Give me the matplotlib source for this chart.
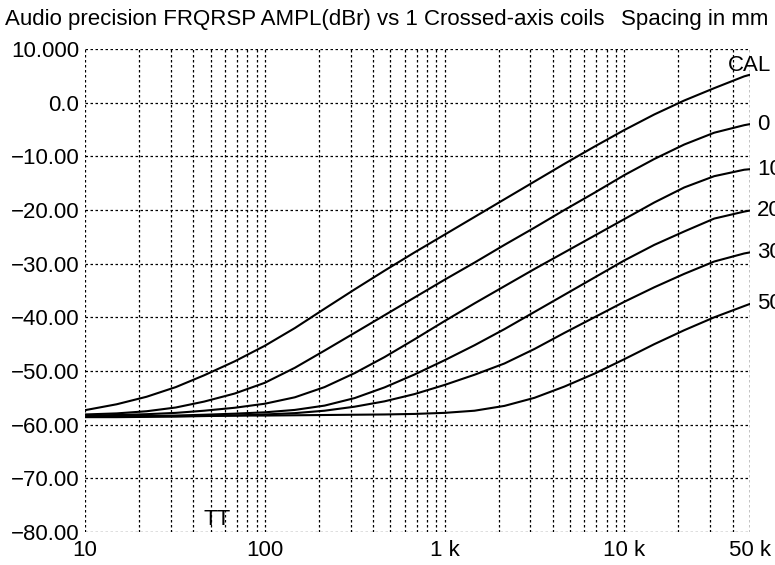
import matplotlib.pyplot as plt
from matplotlib.ticker import FixedLocator, NullFormatter

plt.rcParams['font.family'] = ['Liberation Sans', 'DejaVu Sans']

# frequency points (Hz)
freqs = [10, 15, 22, 32, 46, 68, 100, 147, 215, 316, 464, 681, 1000, 1468, 2154,
         3162, 4642, 6813, 10000, 14678, 21544, 31623, 46416, 50000]

# level in dBr for each coil spacing
cal = [-57.3, -56.2, -54.8, -53.0, -50.8, -48.2, -45.3, -42.0, -38.4, -34.8, -31.3,
       -27.9, -24.6, -21.3, -18.0, -14.7, -11.4, -8.2, -5.1, -2.2, 0.4, 2.7, 4.9, 5.2]
s0 = [-58.1, -57.9, -57.5, -56.8, -55.7, -54.2, -52.2, -49.4, -46.2, -42.9, -39.6,
      -36.3, -33.0, -29.8, -26.5, -23.3, -20.0, -16.8, -13.5, -10.5, -7.8, -5.6, -4.2, -4.0]
s10 = [-58.3, -58.2, -58.05, -57.8, -57.4, -56.85, -56.1, -54.9, -53.0, -50.4, -47.4,
       -44.1, -40.7, -37.4, -34.2, -31.0, -27.9, -24.8, -21.7, -18.6, -15.8, -13.7, -12.5, -12.4]
s20 = [-58.5, -58.45, -58.4, -58.3, -58.15, -57.95, -57.7, -57.25, -56.45, -55.05, -53.05,
       -50.65, -48.0, -45.2, -42.2, -39.0, -35.8, -32.6, -29.4, -26.5, -24.0, -21.6, -20.3, -20.1]
s30 = [-58.6, -58.6, -58.55, -58.5, -58.4, -58.3, -58.1, -57.85, -57.4, -56.65, -55.65,
       -54.3, -52.6, -50.7, -48.6, -45.9, -42.9, -40.0, -37.1, -34.4, -31.9, -29.6, -28.1, -27.9]
s50 = [-58.4, -58.4, -58.4, -58.4, -58.35, -58.3, -58.3, -58.25, -58.2, -58.15, -58.1,
       -58.0, -57.8, -57.4, -56.5, -55.0, -52.9, -50.5, -47.8, -45.0, -42.4, -40.0, -37.9, -37.5]

series = [cal, s0, s10, s20, s30, s50]
labels = ['CAL', '0', '10', '20', '30', '50']

yticks = [10, 0, -10, -20, -30, -40, -50, -60, -70, -80]
ytick_labels = ['10.000', '0.0', '\u221210.00', '\u221220.00', '\u221230.00',
                '\u221240.00', '\u221250.00', '\u221260.00', '\u221270.00', '\u221280.00']
xticks = [10, 100, 1000, 10000, 50000]
xtick_labels = ['10', '100', '1 k', '10 k', '50 k']

fig = plt.figure(figsize=(7.75, 5.65), dpi=100)
ax = fig.add_axes([0.1097, 0.0584, 0.8580, 0.8549])

for vals in series:
    ax.plot(freqs, vals, color='black', lw=1.5, zorder=3)

ax.set_xscale('log')
ax.set_xlim(10, 50000)
ax.set_ylim(-80, 10)

# dotted grid, also used as the frame
grid_x = [m * 10 ** d for d in range(1, 5) for m in range(1, 10) if m * 10 ** d <= 50000]
grid_x.append(50000)
for gx in grid_x:
    ax.axvline(gx, color='black', lw=0.9, ls=(0, (2, 2)), zorder=1)
for gy in yticks:
    ax.axhline(gy, color='black', lw=0.9, ls=(0, (2, 2)), zorder=1)
for sp in ax.spines.values():
    sp.set_visible(False)

ax.xaxis.set_major_locator(FixedLocator(xticks))
ax.xaxis.set_minor_formatter(NullFormatter())
ax.set_xticks(xticks)
ax.set_xticklabels(xtick_labels)
ax.set_yticks(yticks)
ax.set_yticklabels(ytick_labels)
ax.tick_params(axis='both', which='both', length=0, labelsize=16, pad=4)
ax.tick_params(axis='x', pad=6)

# curve labels at the right edge
for lab, vals in zip(labels, series):
    if lab == 'CAL':
        ax.text(freqs[-1], vals[-1] + 1.8, lab, ha='center', va='center', fontsize=16)
    else:
        ax.annotate(lab, xy=(freqs[-1], vals[-1]), xytext=(7, 0),
                    textcoords='offset pixels', va='center', fontsize=16,
                    annotation_clip=False)

ax.text(54, -77.7, 'TT', ha='center', va='center', fontsize=16)

fig.text(0.006, 0.966, 'Audio precision FRQRSP AMPL(dBr) vs 1 Crossed-axis coils',
         ha='left', va='center', fontsize=16)
fig.text(0.991, 0.966, 'Spacing in mm', ha='right', va='center', fontsize=16)

fig.savefig('out.png', dpi=100)
